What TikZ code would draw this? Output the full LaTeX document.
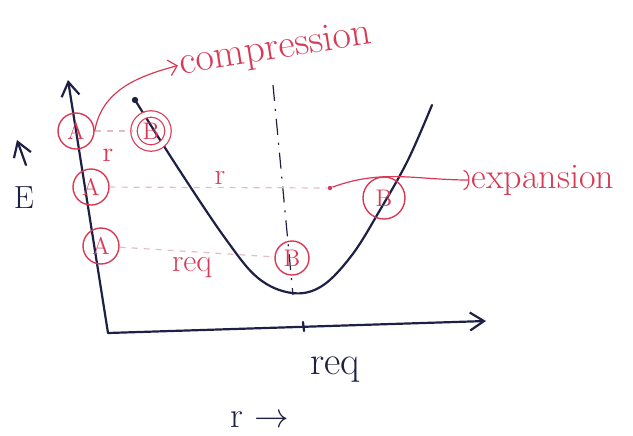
\documentclass[tikz,border=0pt]{standalone}
\usepackage{tikz}
\usetikzlibrary{arrows.meta, shapes.geometric, positioning}
\usepackage{xcolor}
\definecolor{inkred}{HTML}{D83A55}
\definecolor{inkblue}{HTML}{1E2044}
\definecolor{faint}{HTML}{E6BCC4}

\begin{document}
\begin{tikzpicture}[
    x=0.5pt, y=-0.5pt,
    ink/.style={draw=inkblue, line width=1.1pt, line cap=round},
    axarr/.style={ink, -{Straight Barb[length=7pt, width=9pt]}},
    atomA/.style={circle, draw=inkred, text=inkred, line width=0.7pt,
                  minimum size=18pt, inner sep=0pt, font=\fontsize{12}{12}\selectfont},
    atomB/.style={atomA, minimum size=17pt},
    atomBB/.style={atomA, minimum size=17pt, line width=0.6pt,
                   double=white, double distance=2.6pt},
    rlab/.style={text=inkred, inner sep=1pt},
    axlab/.style={text=inkblue, inner sep=1pt},
    gap/.style={draw=faint, dashed, line width=0.6pt},
    note/.style={draw=inkred, line width=0.6pt},
    dotn/.style={circle, fill=inkred, inner sep=0pt, minimum size=2.2pt}
]
    \useasboundingbox (0,0) rectangle (633,435);

    % axes
    \coordinate (O)    at (108,333);
    \coordinate (ytop) at (68,80);
    \coordinate (xend) at (486,321);
    \draw[axarr] (O) -- (ytop);
    \draw[axarr] (O) -- (xend);
    \draw[ink] (303,322) -- (304,331);

    % energy axis label
    \node[axlab, font=\fontsize{16}{16}\selectfont] (E) at (24,198) {E};
    \coordinate (eup0) at (26,165);
    \coordinate (eup1) at (17,140);
    \draw[axarr] (eup0) -- (eup1);

    % potential energy curve
    \draw[ink] plot[smooth, tension=0.6] coordinates {(135,100) (178,168) (225,238)
        (258,278) (292,293) (322,286) (352,255) (380,210) (408,160) (432,105)};
    \fill[inkblue] (135,100) circle (1.6pt);

    % equilibrium line
    \draw[draw=inkblue, line width=0.6pt, dash pattern=on 8pt off 4pt on 1pt off 4pt]
        (273,85) -- (293,295);

    % atoms
    \node[atomA]  (A1) at (76,131)  {A};
    \node[atomA]  (A2) at (91,187)  {A};
    \node[atomA]  (A3) at (101,246) {A};
    \node[atomBB] (B1) at (151,131) {B};
    \node[atomB]  (B2) at (292,258) {B};
    \node[atomA, minimum size=21pt] (B3) at (384,198) {B};
    \node[dotn]   (edot) at (330,188) {};

    % separations
    \draw[gap] (A1) -- (B1);
    \draw[gap] (A2) -- (edot);
    \draw[gap] (A3) -- (B2);
    \node[rlab, font=\fontsize{14}{14}\selectfont] (r1) at (108,155) {r};
    \node[rlab, font=\fontsize{15}{15}\selectfont] (r2) at (220,178) {r};
    \node[rlab, font=\fontsize{16}{16}\selectfont] (r3) at (192,268) {req};

    % notes
    \node[rlab, rotate=9, font=\fontsize{20}{20}\selectfont] (comp) at (276,50) {compression};
    \draw[note, -{Straight Barb[length=4pt, width=8pt]}] (A1.east) to[out=80, in=195] (comp.west);
    \node[rlab, font=\fontsize{18}{18}\selectfont] (expn) at (543,180) {expansion};
    \draw[note, -{Arc Barb[length=3pt, width=10pt]}] (edot) to[out=20, in=180] (expn.west);

    % r axis labels
    \node[axlab, font=\fontsize{20}{20}\selectfont] (req) at (335,370) {req};
    \node[axlab, font=\fontsize{18}{18}\selectfont] (rax) at (260,420) {r $\rightarrow$};
\end{tikzpicture}
\end{document}
